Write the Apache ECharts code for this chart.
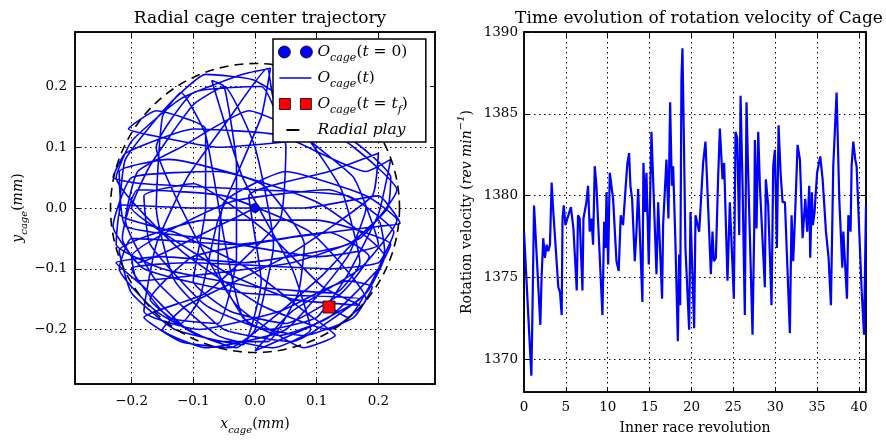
<!DOCTYPE html>
<html>
<head>
<meta charset="utf-8">
<script src="https://cdn.jsdelivr.net/npm/echarts@6/dist/echarts.min.js"></script>
<style>html,body{margin:0;padding:0;background:#fff}#c{width:886px;height:440px}</style>
</head>
<body>
<div id="c"></div>
<script>
// ---- Left panel: radial cage center trajectory (mm) ----
const trajX = [0.000,-0.060,-0.190,-0.215,-0.190,-0.050,0.090,0.180,0.120,0.010,-0.120,-0.225,-0.200,-0.120,-0.020,0.025,0.010,-0.060,-0.090,-0.120,-0.170,-0.100,0.050,0.200,0.235,0.200,0.080,-0.100,-0.215,-0.225,-0.150,0.000,0.130,0.170,0.140,0.080,-0.010,-0.120,-0.190,-0.210,-0.160,-0.060,0.030,0.090,0.060,-0.020,-0.070,-0.050,-0.030,-0.030,-0.060,-0.140,-0.200,-0.100,0.120,0.200,0.225,0.150,0.000,-0.180,-0.230,-0.210,-0.100,0.040,0.180,0.220,0.200,0.150,0.100,0.020,-0.080,-0.170,-0.180,-0.100,0.020,0.110,0.170,0.060,-0.040,-0.150,-0.200,-0.170,-0.100,-0.050,0.000,0.030,0.000,-0.030,-0.110,-0.180,-0.225,-0.150,-0.020,0.150,0.215,0.220,0.140,0.060,-0.060,-0.170,-0.205,-0.160,-0.080,-0.080,-0.100,-0.040,0.050,0.140,0.185,0.120,-0.030,-0.200,-0.220,-0.160,-0.060,0.020,0.070,0.080,0.010,-0.140,-0.220,-0.210,-0.080,0.100,0.200,0.160,0.090,0.030,0.020,-0.040,-0.110,-0.160,-0.180,-0.090,0.040,0.150,0.190,0.160,0.080,-0.010,-0.060,-0.050,0.050,0.180,0.230,0.170,0.060,0.000,0.100,0.170,
  -0.020,-0.180,-0.230,-0.200,-0.060,0.100,0.210,0.180,0.060,-0.050,-0.130,-0.160,-0.150,-0.120,-0.080,-0.050,-0.020,0.040,0.120,0.200,0.220,0.100,-0.080,-0.220,-0.200,-0.130,-0.020,0.010,-0.010,0.120,0.200,0.190,0.050,-0.110,-0.150,-0.080,0.050,0.150,0.180,0.120,-0.040,-0.200,-0.190,-0.090,0.060,0.170,0.230,0.160,0.000,-0.080,-0.140,-0.210,-0.220,-0.130,-0.010,0.080,0.130,0.080,-0.030,-0.100,-0.160,-0.100,0.010,0.050,0.040,-0.080,-0.180,-0.120,-0.040,0.030,0.110,0.200,0.210,0.150,0.120];
const trajY = [0.000,-0.030,-0.090,-0.050,0.030,0.020,-0.040,-0.150,-0.200,-0.160,-0.070,0.050,0.110,0.180,0.220,0.230,0.150,-0.020,-0.150,-0.190,-0.150,-0.080,-0.050,-0.030,-0.025,0.020,0.000,0.000,0.005,-0.060,-0.100,-0.130,-0.140,-0.090,0.030,0.120,0.160,0.100,0.060,-0.020,-0.120,-0.210,-0.230,-0.200,-0.100,0.050,0.210,0.200,0.070,-0.080,-0.190,-0.180,-0.100,-0.090,-0.100,-0.090,-0.040,0.020,0.030,0.040,0.050,0.090,0.130,0.120,0.060,0.080,-0.010,-0.110,-0.180,-0.200,-0.160,-0.060,0.020,0.040,-0.040,-0.130,-0.160,-0.150,-0.110,-0.040,0.000,0.070,0.170,0.200,0.100,-0.060,-0.200,-0.230,-0.200,-0.130,-0.090,-0.080,-0.090,-0.060,0.000,0.050,0.120,0.110,0.100,0.120,0.130,0.160,0.130,0.000,-0.120,-0.170,-0.190,-0.140,-0.080,-0.040,-0.060,-0.050,-0.100,-0.170,-0.220,-0.220,-0.140,-0.060,0.040,0.080,0.060,-0.030,-0.050,-0.080,-0.060,0.050,0.110,0.180,0.230,0.150,0.050,-0.060,-0.170,-0.200,-0.170,-0.120,-0.130,-0.180,-0.210,-0.190,-0.100,0.010,0.060,0.020,-0.020,-0.100,-0.170,-0.235,-0.190,-0.150,
  -0.140,-0.100,-0.030,0.050,0.060,0.010,-0.080,-0.140,-0.220,-0.200,-0.120,0.000,0.150,0.190,0.120,-0.050,-0.180,-0.210,-0.180,-0.100,-0.060,-0.020,-0.020,-0.070,-0.140,-0.200,-0.225,-0.120,0.020,0.060,0.090,0.020,-0.080,-0.160,-0.200,-0.230,-0.200,-0.080,0.000,0.030,0.010,-0.080,-0.120,-0.110,-0.090,-0.050,0.030,0.100,0.210,0.220,0.170,0.080,-0.010,-0.040,-0.100,-0.170,-0.210,-0.230,-0.160,-0.040,0.100,0.190,0.200,0.100,-0.020,-0.140,-0.180,-0.220,-0.230,-0.180,-0.110,-0.020,-0.070,-0.180,-0.163];
const startPoint = [[0.0, 0.0]];
const endPoint = [[0.12, -0.163]];
const radialPlay = [[0.0, 0.0, 0.236]]; // centre x, centre y, radius (mm)

// ---- Right panel: rotation velocity of cage ----
const revolutions = [0,0.88,1.0,1.15,1.2,1.3,1.95,2.1,2.3,2.5,2.7,2.9,3.1,3.3,3.5,4.1,4.3,4.5,4.6,4.75,4.95,5.3,5.6,5.9,6.3,6.45,6.65,6.98,7.1,7.45,7.65,7.85,8.05,8.25,8.45,8.65,9.37,9.57,9.73,9.85,10.05,10.24,10.64,11.04,11.31,11.55,11.83,12.15,12.35,12.55,12.71,12.91,13.23,13.43,13.63,14.14,14.26,14.46,14.62,14.9,15.22,15.82,16.02,16.49,16.61,16.81,17.01,17.25,17.45,17.65,17.81,18.09,18.37,18.53,18.65,18.8,18.92,19.08,19.28,19.72,19.88,20.32,20.48,20.92,21.39,21.67,21.87,22.19,22.31,22.51,22.67,22.91,23.19,23.39,23.71,23.9,24.3,24.58,25.06,25.26,25.46,25.7,25.86,26.1,26.37,26.57,26.77,27.29,27.49,27.57,27.77,27.97,28.17,28.76,28.88,29.16,29.56,29.76,29.96,30.2,30.4,30.64,30.88,31.16,31.75,31.95,32.15,32.43,32.67,32.95,33.27,33.59,33.82,34.06,34.18,34.38,34.5,34.7,35.0,35.38,35.66,36.06,36.37,36.65,36.93,37.33,37.65,38.01,38.13,38.57,38.73,39.0,39.12,39.32,39.56,39.72,40.32,40.6,40.84];
const velocity = [1377.8,1369.0,1372.6,1372.5,1379.4,1379.5,1372.1,1375.0,1377.4,1376.2,1377.0,1376.6,1377.0,1380.8,1379.0,1374.4,1374.1,1372.7,1378.6,1379.4,1378.2,1378.8,1379.3,1378.0,1374.2,1378.8,1378.6,1374.2,1378.6,1379.6,1380.6,1377.8,1378.6,1377.0,1381.8,1380.6,1372.7,1378.4,1376.8,1380.2,1375.8,1381.4,1379.8,1376.0,1375.4,1378.8,1378.2,1380.6,1382.0,1382.6,1380.6,1379.8,1376.0,1377.8,1380.4,1373.5,1382.0,1379.0,1381.4,1375.8,1383.9,1375.2,1379.6,1373.7,1378.2,1380.2,1382.2,1378.6,1385.7,1380.6,1381.8,1377.0,1371.1,1376.4,1373.3,1387.1,1389.0,1383.9,1376.8,1371.8,1379.0,1371.9,1378.8,1377.8,1382.0,1383.3,1380.8,1376.8,1375.2,1377.8,1376.0,1376.2,1381.2,1384.1,1381.0,1382.0,1374.8,1379.6,1373.7,1383.9,1383.5,1377.6,1386.1,1380.6,1372.7,1385.7,1381.4,1371.5,1378.0,1383.4,1378.0,1383.9,1380.6,1374.4,1381.0,1379.4,1373.3,1381.8,1382.8,1376.8,1384.3,1381.4,1379.6,1379.6,1371.6,1378.8,1376.0,1379.6,1383.1,1382.2,1377.4,1379.8,1377.8,1380.6,1376.2,1380.2,1378.2,1379.0,1381.4,1382.4,1381.0,1377.8,1376.2,1373.3,1381.8,1386.3,1379.8,1375.6,1377.8,1373.7,1378.8,1377.8,1381.8,1383.3,1382.2,1381.8,1374.2,1371.5,1379.4];

const trajectory = trajX.map((x, i) => [x, trajY[i]]);
const velocitySeries = revolutions.map((r, i) => [r, velocity[i]]);

const SERIF = '"DejaVu Serif", "Liberation Serif", serif';
const BLUE = '#0000ff';
const dots = [1.5, 3.5];

const rich = {
  u: { fontFamily: SERIF, fontSize: 14, color: '#000' },
  i: { fontFamily: SERIF, fontSize: 14, fontStyle: 'italic', color: '#000' },
  s: { fontFamily: SERIF, fontSize: 10, fontStyle: 'italic', color: '#000', verticalAlign: 'bottom', padding: [0, 0, -4, 0] },
  p: { fontFamily: SERIF, fontSize: 10, fontStyle: 'italic', color: '#000', verticalAlign: 'top', padding: [-4, 0, 0, 0] }
};
const legendRich = {
  u: { fontFamily: SERIF, fontSize: 15.5, color: '#000' },
  i: { fontFamily: SERIF, fontSize: 15.5, fontStyle: 'italic', color: '#000' },
  s: { fontFamily: SERIF, fontSize: 11, fontStyle: 'italic', color: '#000', verticalAlign: 'bottom', padding: [0, 0, -4, 0] }
};

function fmtTick(v, d) {
  return v.toFixed(d).replace('-', '\u2212');
}

const legendText = {
  start: '{i|O}{s|cage}{u|(}{i|t}{u| = 0)}',
  traj: '{i|O}{s|cage}{u|(}{i|t}{u|)}',
  end: '{i|O}{s|cage}{u|(}{i|t}{u| = }{i|t}{s|f}{u|)}',
  play: '{i|Radial play}'
};
const speck = ' M0,0h0.01v0.01h-0.01Z M34,12h-0.01v-0.01h0.01Z';

function mainAxisCommon() {
  return {
    axisLine: { show: true, onZero: false, lineStyle: { color: '#000', width: 1.5 } },
    axisTick: { show: true, inside: true, length: 5, lineStyle: { color: '#000', width: 1 } },
    splitLine: { show: true, lineStyle: { color: '#000', width: 1, type: dots } },
    axisLabel: { color: '#000', fontFamily: SERIF, fontSize: 13.5, showMinLabel: false, showMaxLabel: false }
  };
}
function mirrorAxis() {
  return {
    axisLine: { show: true, onZero: false, lineStyle: { color: '#000', width: 1.5 } },
    axisTick: { show: true, inside: true, length: 5, lineStyle: { color: '#000', width: 1 } },
    splitLine: { show: false },
    axisLabel: { show: false }
  };
}

const option = {
  animation: false,
  backgroundColor: '#fff',
  title: [
    { text: 'Radial cage center trajectory', left: 255, top: 5, textAlign: 'center',
      textStyle: { fontFamily: SERIF, fontSize: 17, fontWeight: 'normal', color: '#000' } },
    { text: 'Time evolution of rotation velocity of Cage', left: 694, top: 5, textAlign: 'center',
      textStyle: { fontFamily: SERIF, fontSize: 17, fontWeight: 'normal', color: '#000' } }
  ],
  grid: [
    { left: 75, top: 32, width: 360, height: 357, show: true, borderColor: '#000', borderWidth: 1.5, backgroundColor: 'transparent' },
    { left: 524, top: 32, width: 342, height: 362, show: true, borderColor: '#000', borderWidth: 1.5, backgroundColor: 'transparent' }
  ],
  legend: {
    data: [
      { name: 'start', icon: 'path://M6,0A6,6 0 1,1 6,12A6,6 0 1,1 6,0Z M28,0A6,6 0 1,1 28,12A6,6 0 1,1 28,0Z', itemStyle: { color: BLUE, borderColor: '#000', borderWidth: 0.8, opacity: 1 } },
      { name: 'traj', icon: 'path://M1,5.3H33V6.7H1Z' + speck, itemStyle: { color: BLUE, opacity: 1 } },
      { name: 'end', icon: 'path://M1,0.5H12V11.5H1Z M22,0.5H33V11.5H22Z' + speck, itemStyle: { color: '#ff0000', borderColor: '#000', borderWidth: 0.8, opacity: 1 } },
      { name: 'play', icon: 'path://M8,5H21V7H8Z' + speck, itemStyle: { color: '#000', opacity: 1 } }
    ],
    orient: 'vertical',
    left: 273, top: 39,
    padding: [5, 18, 4, 5],
    itemWidth: 34, itemHeight: 12, itemGap: 6,
    backgroundColor: '#fff', borderColor: '#000', borderWidth: 1.5, borderRadius: 0,
    formatter: n => legendText[n],
    textStyle: { rich: legendRich, fontFamily: SERIF, fontSize: 15.5 },
    selectedMode: false
  },
  xAxis: [
    Object.assign(mainAxisCommon(), {
      type: 'value', gridIndex: 0, min: -0.2917, max: 0.2917, splitNumber: 5,
      name: '{i|x}{s|cage}{u|(}{i|mm}{u|)}', nameLocation: 'middle', nameGap: 33,
      nameTextStyle: { rich: rich },
      axisLabel: Object.assign(mainAxisCommon().axisLabel, { margin: 10, formatter: v => fmtTick(v, 1) })
    }),
    Object.assign(mainAxisCommon(), {
      type: 'value', gridIndex: 1, min: 0, max: 40.84, interval: 5,
      name: 'Inner race revolution', nameLocation: 'middle', nameGap: 29,
      nameTextStyle: { fontFamily: SERIF, fontSize: 14, color: '#000' },
      axisLabel: Object.assign(mainAxisCommon().axisLabel, { margin: 8, showMinLabel: true, formatter: v => String(v) })
    }),
    Object.assign(mirrorAxis(), { type: 'value', gridIndex: 0, position: 'top', min: -0.2917, max: 0.2917, splitNumber: 5 }),
    Object.assign(mirrorAxis(), { type: 'value', gridIndex: 1, position: 'top', min: 0, max: 40.84, interval: 5 })
  ],
  yAxis: [
    Object.assign(mainAxisCommon(), {
      type: 'value', gridIndex: 0, min: -0.2897, max: 0.2897, splitNumber: 5,
      name: '{i|y}{s|cage}{u|(}{i|mm}{u|)}', nameLocation: 'middle', nameGap: 50,
      nameTextStyle: { rich: rich },
      axisLabel: Object.assign(mainAxisCommon().axisLabel, { margin: 8, formatter: v => fmtTick(v, 1) })
    }),
    Object.assign(mainAxisCommon(), {
      type: 'value', gridIndex: 1, min: 1368, max: 1390, splitNumber: 5,
      name: '{u|Rotation velocity (}{i|rev min}{p|\u22121}{u|)}', nameLocation: 'middle', nameGap: 50,
      nameTextStyle: { rich: rich },
      axisLabel: Object.assign(mainAxisCommon().axisLabel, { margin: 6, showMaxLabel: true, formatter: v => String(v) })
    }),
    Object.assign(mirrorAxis(), { type: 'value', gridIndex: 0, position: 'right', min: -0.2897, max: 0.2897, splitNumber: 5 }),
    Object.assign(mirrorAxis(), { type: 'value', gridIndex: 1, position: 'right', min: 1368, max: 1390, splitNumber: 5 })
  ],
  series: [
    {
      name: 'traj', type: 'line', xAxisIndex: 0, yAxisIndex: 0,
      data: trajectory, showSymbol: false, symbol: 'none', smooth: 0.15,
      lineStyle: { color: BLUE, width: 1.6 }, itemStyle: { color: BLUE }, z: 2
    },
    {
      name: 'play', type: 'custom', xAxisIndex: 0, yAxisIndex: 0, data: radialPlay,
      itemStyle: { color: '#000' }, z: 3, silent: true,
      renderItem: function (params, api) {
        const c = api.coord([api.value(0), api.value(1)]);
        const s = api.size([api.value(2), api.value(2)]);
        return { type: 'circle', shape: { cx: c[0], cy: c[1], r: (s[0] + s[1]) / 2 },
          style: { fill: 'none', stroke: '#000', lineWidth: 1.6, lineDash: [9, 6] } };
      }
    },
    {
      name: 'start', type: 'scatter', xAxisIndex: 0, yAxisIndex: 0, data: startPoint,
      symbol: 'circle', symbolSize: 9, itemStyle: { color: BLUE, borderColor: '#000', borderWidth: 0.8, opacity: 1 }, z: 4
    },
    {
      name: 'end', type: 'scatter', xAxisIndex: 0, yAxisIndex: 0, data: endPoint,
      symbol: 'rect', symbolSize: 12, itemStyle: { color: '#ff0000', borderColor: '#000', borderWidth: 0.8, opacity: 1 }, z: 4
    },
    {
      name: 'velocity', type: 'line', xAxisIndex: 1, yAxisIndex: 1, data: velocitySeries,
      showSymbol: false, symbol: 'none', lineStyle: { color: BLUE, width: 2.2 }, itemStyle: { color: BLUE }, z: 2
    }
  ]
};

const chart = echarts.init(document.getElementById('c'), null, { renderer: 'canvas' });
chart.setOption(option);
</script>
</body>
</html>
